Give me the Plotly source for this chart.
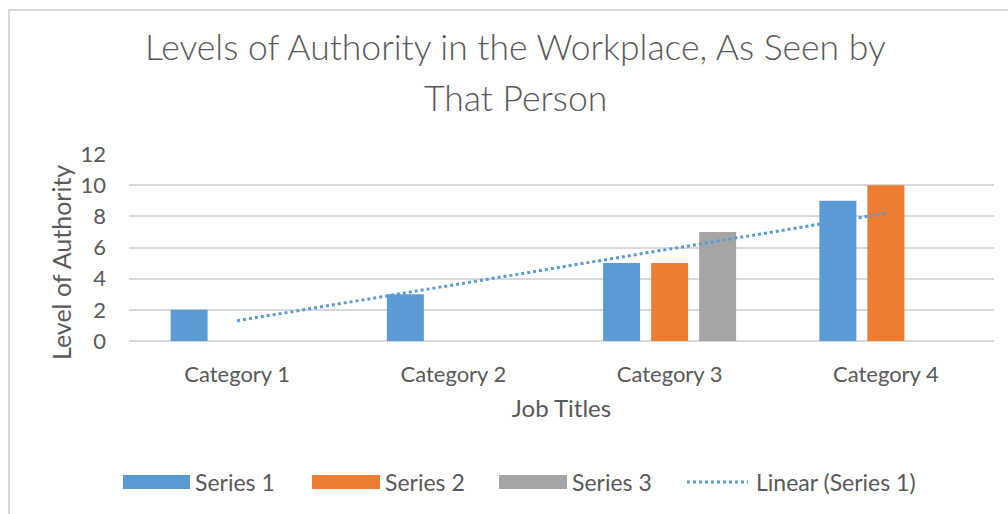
import numpy as np
import plotly.graph_objects as go

categories = ["Category 1", "Category 2", "Category 3", "Category 4"]
series1 = [2, 3, 5, 9]
series2 = [None, None, 5, 10]
series3 = [None, None, 7, None]
series_names = ["Series 1", "Series 2", "Series 3"]
colors = ["#5B9BD5", "#ED7D31", "#A5A5A5"]
y_ticks = [0, 2, 4, 6, 8, 10, 12]
title_lines = ["Levels of Authority in the Workplace, As Seen by", "That Person"]

W, H = 1008, 514
L, R, T, B = 129, 14, 154, 173
pw = W - L - R
ph = H - T - B

def px_x(x):
    return (x - L) / pw

def px_y(y):
    return (H - B - y) / ph

FONT = "Lato"
TXT = "#595959"

fig = go.Figure()
for name, vals, col in zip(series_names, [series1, series2, series3], colors):
    fig.add_trace(go.Bar(x=categories, y=vals, name=name, marker=dict(color=col, line=dict(width=0)),
                         showlegend=False))

# linear trendline of series 1
xi = np.arange(1, len(series1) + 1)
slope, intercept = np.polyfit(xi, series1, 1)
trend = slope * xi + intercept
fig.add_trace(go.Scatter(x=categories, y=trend, mode="lines", name="Linear (Series 1)",
                         line=dict(color="#5B9BD5", width=3, dash="dot"), showlegend=False))

fig.update_layout(
    width=W, height=H,
    margin=dict(l=L, r=R, t=T, b=B),
    paper_bgcolor="white", plot_bgcolor="white",
    barmode="group", bargap=0.334, bargroupgap=0.23,
    font=dict(family=FONT, color=TXT, size=18),
    xaxis=dict(showgrid=False, showline=False, zeroline=False, ticks="",
               tickfont=dict(size=22, color=TXT), ticklabelstandoff=18,
               title=dict(text="Job Titles", font=dict(size=24, color=TXT), standoff=14)),
    yaxis=dict(range=[0, 12], tickvals=y_ticks, showgrid=True, gridcolor="#D9D9D9", gridwidth=2,
               zeroline=True, zerolinecolor="#D9D9D9", zerolinewidth=2, showline=False, ticks="",
               tickfont=dict(size=22, color=TXT), ticklabelstandoff=22),
)

# chart title (two lines, Excel-like spacing)
for line, yc in zip(title_lines, [47, 98]):
    fig.add_annotation(text=line, xref="paper", yref="paper", x=px_x(515), y=px_y(yc),
                       xanchor="center", yanchor="middle", showarrow=False,
                       font=dict(family=FONT, size=35.5, color=TXT, weight=300))

# y-axis title
fig.add_annotation(text="Level of Authority", xref="paper", yref="paper", x=px_x(61), y=px_y(263),
                   xanchor="center", yanchor="middle", showarrow=False, textangle=-90,
                   font=dict(size=25, color=TXT))

# outer chart border
fig.add_shape(type="rect", xref="paper", yref="paper",
              x0=px_x(9), x1=px_x(1030), y0=px_y(540), y1=px_y(10),
              line=dict(color="#D9D9D9", width=2), fillcolor="rgba(0,0,0,0)", layer="below")

# custom legend
leg_y = 482
LEG_FS = 23
swatches = [(123, 190, colors[0], "Series 1", 193),
            (312, 380, colors[1], "Series 2", 383),
            (499, 567, colors[2], "Series 3", 570)]
for x0, x1, col, label, tx in swatches:
    fig.add_shape(type="rect", xref="paper", yref="paper",
                  x0=px_x(x0), x1=px_x(x1), y0=px_y(leg_y + 7), y1=px_y(leg_y - 7),
                  fillcolor=col, line=dict(width=0))
    fig.add_annotation(text=label, xref="paper", yref="paper", x=px_x(tx), y=px_y(leg_y),
                       xanchor="left", yanchor="middle", showarrow=False,
                       font=dict(size=LEG_FS, color=TXT))
fig.add_shape(type="line", xref="paper", yref="paper",
              x0=px_x(687), x1=px_x(748), y0=px_y(leg_y), y1=px_y(leg_y),
              line=dict(color="#5B9BD5", width=3, dash="dot"))
fig.add_annotation(text="Linear (Series 1)", xref="paper", yref="paper", x=px_x(754), y=px_y(leg_y),
                   xanchor="left", yanchor="middle", showarrow=False,
                   font=dict(size=LEG_FS, color=TXT))

fig.write_html("out.html", config={"displayModeBar": False},
               post_script="document.body.style.margin='0';document.body.style.overflow='hidden';")
